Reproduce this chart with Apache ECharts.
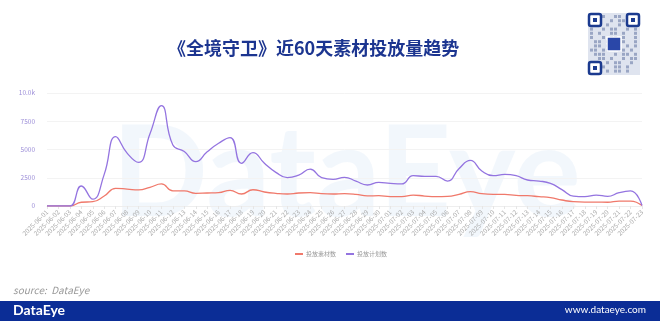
<!DOCTYPE html>
<html><head><meta charset="utf-8">
<script src="https://cdn.jsdelivr.net/npm/echarts@6/dist/echarts.min.js"></script>
<style>html,body{margin:0;padding:0;background:#fff}#c{width:660px;height:321px}</style>
</head><body><div id="c"></div>
<script>
const dates = [];
for (let d = 1; d <= 30; d++) dates.push('2025-06-' + String(d).padStart(2, '0'));
for (let d = 1; d <= 23; d++) dates.push('2025-07-' + String(d).padStart(2, '0'));

const materialCounts = [0,0,0,330,380,880,1560,1500,1420,1650,1950,1330,1330,1120,1150,1180,1390,1060,1440,1240,1120,1060,1150,1180,1090,1060,1090,1030,890,910,830,830,970,880,830,850,1030,1270,1090,1030,1030,940,910,830,740,530,380,350,350,330,440,440,40];
const planCounts = [0,0,0,1770,600,2800,6140,4680,3860,6400,8880,5400,4820,3920,4800,5550,6050,3780,4730,3780,2980,2510,2740,3270,2510,2360,2540,2200,1860,2090,2000,1950,2680,2630,2630,2210,3300,4040,3100,2680,2800,2680,2300,2210,2000,1450,880,830,970,850,1180,1330,40];
const yTicks = [0, 2500, 5000, 7500, 10000];
const seriesNames = ['投放素材数', '投放计划数'];

const chart = echarts.init(document.getElementById('c'), null, {renderer: 'canvas'});
const F = '"Noto Sans CJK SC", "Noto Sans", sans-serif';

// QR-like decorative block
const qr = [];
const qx = 588, qy = 13, qs = 52, qh = 62;
qr.push({type:'rect', shape:{x:qx, y:qy, width:qs, height:qh}, style:{fill:'#dfe4ef'}});
const cells = '1011001101001110010110100110100101101001011001011010011010011001011010010110100110010110101001011';
let k = 0;
for (let r = 0; r < 14; r++) for (let c = 0; c < 12; c++) {
  if (cells[(k++) % cells.length] === '1') qr.push({type:'rect', shape:{x:qx+2+c*4, y:qy+2+r*4.2, width:3, height:3}, style:{fill:'#9aa6c4'}});
}
[[qx+1,qy+1],[qx+qs-13,qy+1],[qx+1,qy+qh-13]].forEach(p=>{
  qr.push({type:'rect', shape:{x:p[0], y:p[1], width:12, height:12, r:2}, style:{fill:'#fff', stroke:'#1b3a8f', lineWidth:2.5}});
  qr.push({type:'rect', shape:{x:p[0]+4, y:p[1]+4, width:4, height:4}, style:{fill:'#1b3a8f'}});
});
qr.push({type:'rect', shape:{x:qx+19, y:qy+24, width:14, height:14}, style:{fill:'#2a47a8', stroke:'#fff', lineWidth:1.5}});

chart.setOption({
  animation: false,
  backgroundColor: '#fff',
  title: {
    text: '《全境守卫》近60天素材投放量趋势',
    left: 163, top: 34,
    textStyle: {color: '#1c3590', fontSize: 18, fontWeight: 'bold', fontFamily: F}
  },
  graphic: [
    {type:'text', left: 112, top: 112, z: -1, silent: true,
     style:{text:'DataEye', fontSize: 126, fontWeight: 'bold', fontFamily: 'Lato, sans-serif', fill: 'rgba(232,240,250,0.55)'}},
    ...qr,
    {type:'text', left: 13, top: 285, style:{text:'source:  DataEye', fontSize: 10, fontStyle:'italic', fontFamily: F, fill:'#999'}},
    {type:'rect', shape:{x:0, y:301, width:660, height:20}, style:{fill:'#0b2d96'}},
    {type:'text', left: 13, top: 303, style:{text:'DataEye', fontSize: 14, fontFamily: 'Lato, sans-serif', fontWeight:'bold', fill:'#fff'}},
    {type:'text', right: 14, top: 305, style:{text:'www.dataeye.com', fontSize: 10, fontFamily: 'Lato, sans-serif', fill:'#fff'}}
  ],
  legend: {
    data: seriesNames,
    left: 290, top: 246,
    itemWidth: 8, itemHeight: 2, itemGap: 10,
    icon: 'rect',
    textStyle: {fontSize: 6, color: '#999', fontFamily: F, padding: [0,0,0,-2]}
  },
  grid: {left: 47, right: 18, top: 93, bottom: 115},
  xAxis: {
    type: 'category', data: dates, boundaryGap: false,
    axisLine: {lineStyle: {color: '#eeeeee'}},
    axisTick: {show: true, alignWithLabel: true, lineStyle: {color: '#e6e6e6'}, length: 3},
    axisLabel: {rotate: 45, interval: 0, fontSize: 6.5, color: '#ababab', margin: 5, fontFamily: F}
  },
  yAxis: {
    type: 'value', min: 0, max: 10000, interval: 2500,
    axisLine: {show: false}, axisTick: {show: false},
    splitLine: {lineStyle: {color: '#f3f3f3'}},
    axisLabel: {fontSize: 6.5, color: '#9d8fd8', margin: 12, fontFamily: F,
      formatter: v => v >= 10000 ? (v/1000).toFixed(1) + 'k' : String(v)}
  },
  series: [
    {name: seriesNames[0], type: 'line', data: materialCounts, smooth: 0.5, showSymbol: false,
     lineStyle: {width: 1.3, color: '#f0796b'}, itemStyle: {color: '#f0796b'}},
    {name: seriesNames[1], type: 'line', data: planCounts, smooth: 0.5, showSymbol: false,
     lineStyle: {width: 1.3, color: '#9474e0'}, itemStyle: {color: '#9474e0'}}
  ]
});
</script></body></html>
